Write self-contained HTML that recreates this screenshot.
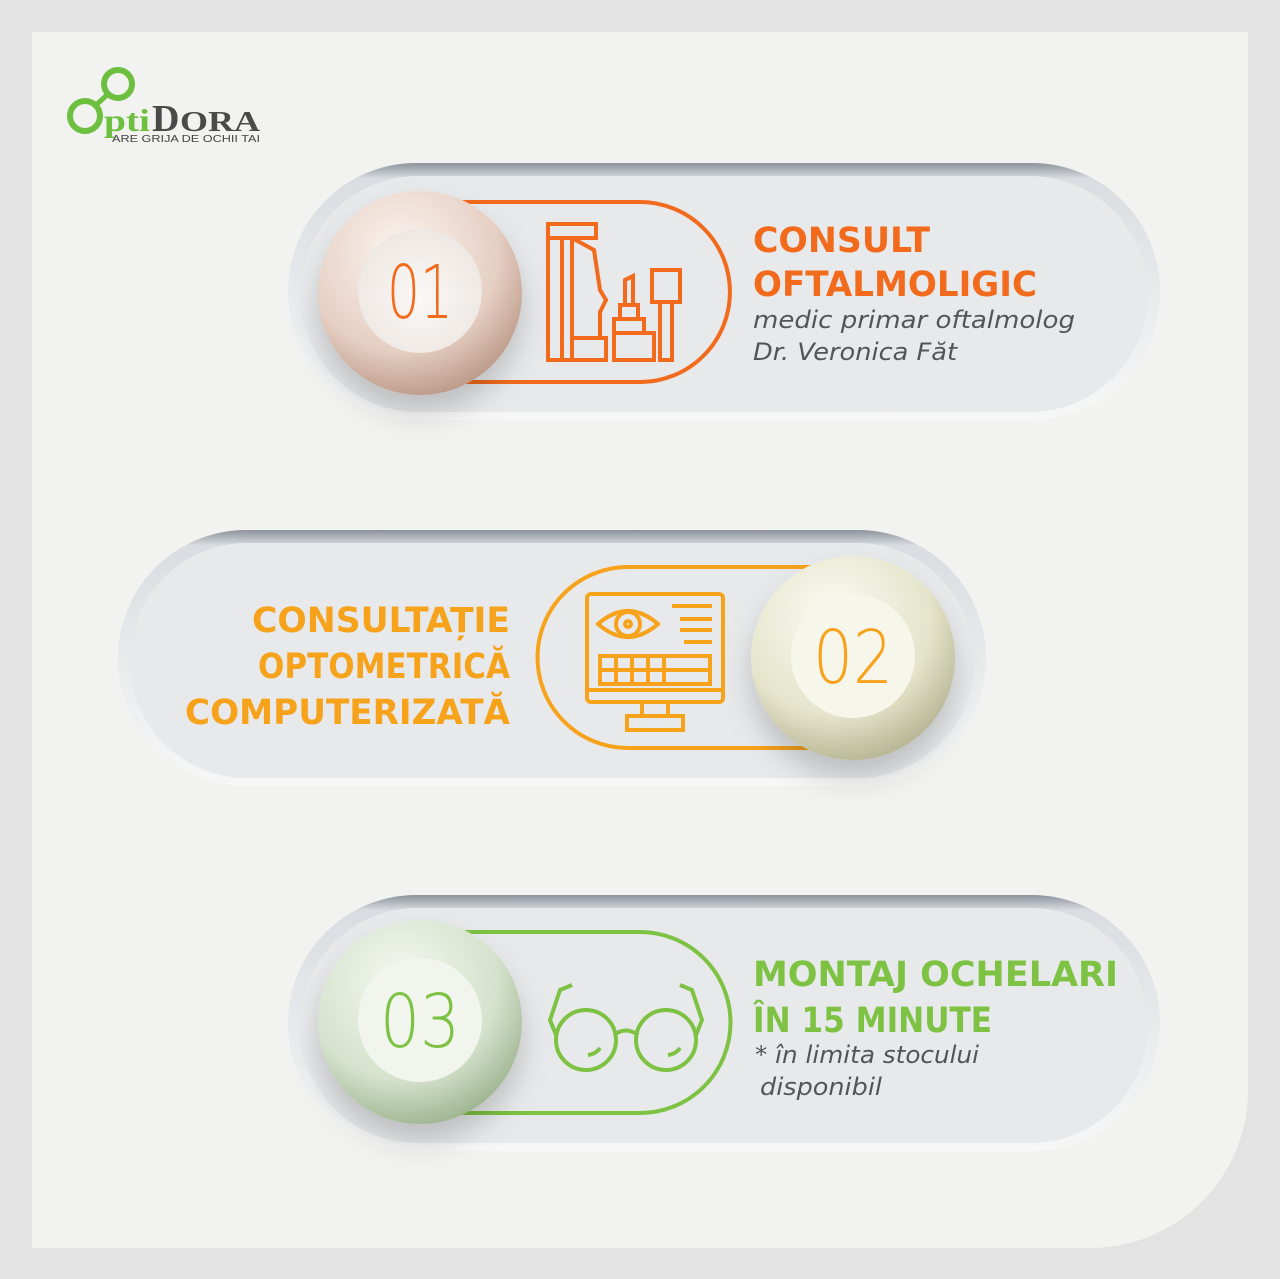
<!DOCTYPE html>
<html><head><meta charset="utf-8">
<style>
html,body{margin:0;padding:0;background:#e3e3e3;}
svg{display:block;}
.h{font-family:"DejaVu Sans","Liberation Sans",sans-serif;font-weight:bold;font-size:35px;}
.s{font-family:"DejaVu Sans","Liberation Sans",sans-serif;font-style:italic;font-size:24px;fill:#555;}
.n{font-family:"DejaVu Sans","Liberation Sans",sans-serif;font-size:74px;font-weight:200;}
</style></head>
<body>
<svg width="1280" height="1279" viewBox="0 0 1280 1279">
<defs>
<linearGradient id="pill" x1="0" y1="0" x2="0" y2="1">
<stop offset="0" stop-color="#8d939b"/><stop offset="0.06" stop-color="#d9dde1"/><stop offset="0.5" stop-color="#e8eaec"/><stop offset="1" stop-color="#f7f7f7"/></linearGradient>
<radialGradient id="c1" cx="0.4" cy="0.3" r="0.8"><stop offset="0" stop-color="#fbf4f0"/><stop offset="0.6" stop-color="#e6cfc3"/><stop offset="1" stop-color="#b08a78"/></radialGradient>
<radialGradient id="c2" cx="0.4" cy="0.3" r="0.8"><stop offset="0" stop-color="#fbfbf3"/><stop offset="0.6" stop-color="#e5e4cb"/><stop offset="1" stop-color="#a8a783"/></radialGradient>
<radialGradient id="c3" cx="0.4" cy="0.3" r="0.8"><stop offset="0" stop-color="#f4f8f0"/><stop offset="0.6" stop-color="#d5e2cc"/><stop offset="1" stop-color="#8ea880"/></radialGradient>
<radialGradient id="ci" cx="0.5" cy="0.55" r="0.6"><stop offset="0" stop-color="#fbf8f5"/><stop offset="1" stop-color="#ece6e2"/></radialGradient>
<filter id="sh" x="-30%" y="-30%" width="160%" height="180%"><feDropShadow dx="0" dy="18" stdDeviation="14" flood-color="#000" flood-opacity="0.18"/></filter>
</defs>
<rect x="32" y="32" width="1216" height="1216" fill="#f2f2f1"/>
<path d="M1248 1090 A158 158 0 0 1 1090 1248 L1248 1248 Z" fill="#e3e3e3"/>

<!-- logo -->
<g>
<circle cx="118" cy="84" r="14" fill="none" stroke="#6cbf3f" stroke-width="6"/>
<line x1="107" y1="95" x2="96" y2="105" stroke="#6cbf3f" stroke-width="5"/>
<circle cx="85" cy="116" r="15" fill="none" stroke="#6cbf3f" stroke-width="6"/>
<text x="104" y="131" font-family="Liberation Serif,serif" font-weight="bold" font-size="32" fill="#6cbf3f" textLength="46" lengthAdjust="spacingAndGlyphs">pti</text>
<text x="152" y="131" font-family="Liberation Serif,serif" font-weight="bold" font-size="38" fill="#4a4a4a">D</text>
<text x="180" y="131" font-family="Liberation Serif,serif" font-weight="bold" font-size="29" fill="#4a4a4a" textLength="80" lengthAdjust="spacingAndGlyphs">ORA</text>
<text x="112" y="142" font-family="Liberation Sans,sans-serif" font-size="10" fill="#444" textLength="148" lengthAdjust="spacingAndGlyphs">ARE GRIJA DE OCHII TAI</text>
</g>

<!-- pill 1 -->
<g>
<rect x="288" y="163" width="872" height="257" rx="128" fill="url(#pill)"/>
<rect x="300" y="176" width="848" height="236" rx="118" fill="#e7e9eb"/>
<path d="M460 202 H640 A90 90 0 0 1 640 382 H460" fill="none" stroke="#f26a1b" stroke-width="4"/>
<g fill="none" stroke="#f26a1b" stroke-width="4">
<rect x="548" y="224" width="48" height="14"/><rect x="548" y="238" width="14" height="122"/><rect x="562" y="238" width="10" height="122"/>
<path d="M572 238 L594 250 L600 290 L606 300 L600 312 L600 338 L572 338"/><rect x="572" y="338" width="34" height="22"/>
<path d="M625 305 L625 280 L633 276 L633 305 Z"/><rect x="620" y="305" width="18" height="14"/><rect x="614" y="319" width="30" height="14"/><rect x="614" y="333" width="40" height="27"/>
<rect x="652" y="270" width="28" height="32"/><rect x="660" y="302" width="12" height="58"/>
</g>
<g filter="url(#sh)"><circle cx="420" cy="293" r="102" fill="url(#c1)"/></g>
<circle cx="420" cy="291" r="62" fill="url(#ci)"/>
<text x="420" y="318" text-anchor="middle" class="n" fill="#f26a1b" textLength="66" lengthAdjust="spacingAndGlyphs">01</text>
<text x="753" y="252" class="h" fill="#f26a1b" textLength="177" lengthAdjust="spacingAndGlyphs">CONSULT</text>
<text x="753" y="296" class="h" fill="#f26a1b" textLength="284" lengthAdjust="spacingAndGlyphs">OFTALMOLIGIC</text>
<text x="753" y="328" class="s" textLength="322" lengthAdjust="spacingAndGlyphs">medic primar oftalmolog</text>
<text x="753" y="360" class="s" textLength="204" lengthAdjust="spacingAndGlyphs">Dr. Veronica Făt</text>
</g>

<!-- pill 2 -->
<g>
<rect x="118" y="530" width="868" height="256" rx="128" fill="url(#pill)"/>
<rect x="130" y="543" width="844" height="235" rx="117" fill="#e7e9eb"/>
<path d="M820 567 H628 A90 90 0 0 0 628 748 H820" fill="none" stroke="#f7a21b" stroke-width="4"/>
<g fill="none" stroke="#f7a21b" stroke-width="4">
<rect x="587" y="594" width="136" height="108" rx="4"/><line x1="587" y1="690" x2="723" y2="690"/>
<path d="M598 624 Q628 598 658 624 Q628 650 598 624 Z"/><circle cx="628" cy="624" r="12"/><circle cx="628" cy="624" r="3"/>
<line x1="672" y1="606" x2="712" y2="606"/><line x1="680" y1="619" x2="712" y2="619"/><line x1="680" y1="630" x2="712" y2="630"/><line x1="684" y1="642" x2="712" y2="642"/>
<rect x="600" y="656" width="110" height="28"/><line x1="600" y1="670" x2="710" y2="670"/><line x1="616" y1="656" x2="616" y2="684"/><line x1="632" y1="656" x2="632" y2="684"/><line x1="648" y1="656" x2="648" y2="684"/><line x1="664" y1="656" x2="664" y2="684"/>
<rect x="642" y="702" width="26" height="14"/><rect x="627" y="716" width="56" height="14"/>
</g>
<g filter="url(#sh)"><circle cx="853" cy="658" r="102" fill="url(#c2)"/></g>
<circle cx="853" cy="656" r="62" fill="#f7f6ea"/>
<text x="853" y="683" text-anchor="middle" class="n" fill="#f7a21b" textLength="80" lengthAdjust="spacingAndGlyphs">02</text>
<text x="510" y="632" text-anchor="end" class="h" fill="#f7a21b" textLength="258" lengthAdjust="spacingAndGlyphs">CONSULTAȚIE</text>
<text x="510" y="678" text-anchor="end" class="h" fill="#f7a21b" textLength="252" lengthAdjust="spacingAndGlyphs">OPTOMETRICĂ</text>
<text x="510" y="724" text-anchor="end" class="h" fill="#f7a21b" textLength="325" lengthAdjust="spacingAndGlyphs">COMPUTERIZATĂ</text>
</g>

<!-- pill 3 -->
<g>
<rect x="288" y="895" width="872" height="256" rx="128" fill="url(#pill)"/>
<rect x="300" y="908" width="848" height="235" rx="117" fill="#e7e9eb"/>
<path d="M460 932 H640 A90 90 0 0 1 640 1113 H460" fill="none" stroke="#7dc242" stroke-width="4"/>
<g fill="none" stroke="#7dc242" stroke-width="4">
<circle cx="586" cy="1040" r="30"/><circle cx="666" cy="1040" r="30"/>
<path d="M614 1035 Q626 1026 638 1035"/>
<path d="M556 1035 L550 1020 L560 990 L572 985"/><path d="M696 1035 L702 1020 L692 990 L680 985"/>
<path d="M588 1055 Q596 1054 600 1048"/><path d="M668 1055 Q676 1054 680 1048"/>
</g>
<g filter="url(#sh)"><circle cx="420" cy="1022" r="102" fill="url(#c3)"/></g>
<circle cx="420" cy="1020" r="62" fill="#f1f5ee"/>
<text x="420" y="1047" text-anchor="middle" class="n" fill="#7dc242" textLength="80" lengthAdjust="spacingAndGlyphs">03</text>
<text x="753" y="986" class="h" fill="#7dc242" textLength="365" lengthAdjust="spacingAndGlyphs">MONTAJ OCHELARI</text>
<text x="753" y="1032" class="h" fill="#7dc242" textLength="239" lengthAdjust="spacingAndGlyphs">ÎN 15 MINUTE</text>
<text x="755" y="1063" class="s" textLength="224" lengthAdjust="spacingAndGlyphs">* în limita stocului</text>
<text x="760" y="1095" class="s" textLength="122" lengthAdjust="spacingAndGlyphs">disponibil</text>
</g>
</svg>
</body></html>
